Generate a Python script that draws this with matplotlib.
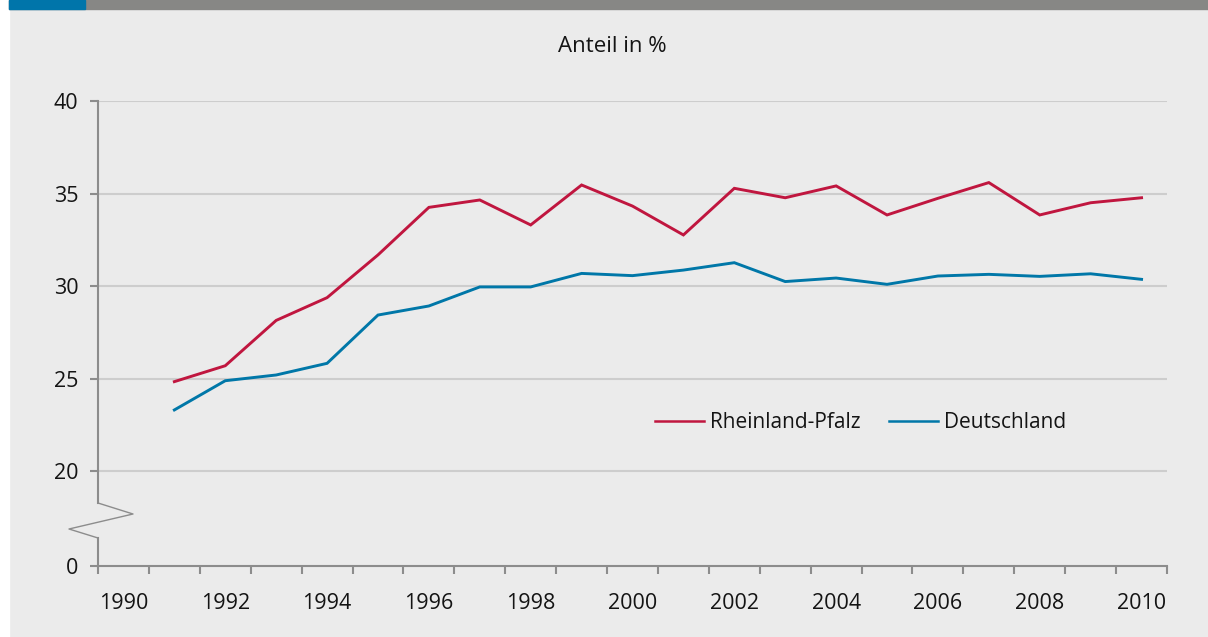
import matplotlib
matplotlib.use("Agg")
import matplotlib.pyplot as plt
from matplotlib.patches import Rectangle
from matplotlib.lines import Line2D
import numpy as np

# Data
years = list(range(1991, 2011))
rheinland_pfalz = [24.83, 25.69, 28.14, 29.37, 31.68, 34.25, 34.65, 33.30, 35.46, 34.32,
                   32.76, 35.28, 34.77, 35.41, 33.84, 34.74, 35.59, 33.84, 34.50, 34.77]
deutschland = [23.30, 24.88, 25.19, 25.82, 28.43, 28.92, 29.95, 29.95, 30.68, 30.56,
               30.86, 31.26, 30.24, 30.43, 30.09, 30.54, 30.63, 30.52, 30.66, 30.36]
year_labels = [str(y) for y in range(1990, 2011, 2)]
y_ticks = [20, 25, 30, 35, 40]

# Styling
plt.rcParams['font.family'] = ['Open Sans', 'DejaVu Sans']
bg = '#ebebeb'
axis_grey = '#8c8c8c'
red = '#c0163f'
blue = '#0077a8'
txt = '#141414'

W, H = 1208, 637
fig = plt.figure(figsize=(W / 100, H / 100), dpi=100, facecolor=bg)

# white strip at left and header bar
fig.patches.append(Rectangle((0, 0), 9 / W, 1, transform=fig.transFigure, color='white', zorder=0))
fig.patches.append(Rectangle((9 / W, 1 - 9 / H), 1, 9 / H, transform=fig.transFigure, color='#878785', zorder=1))
fig.patches.append(Rectangle((9 / W, 1 - 9 / H), 76 / W, 9 / H, transform=fig.transFigure, color='#0075aa', zorder=2))

ax_l, ax_r, ax_t, ax_b = 98, 1167, 101, 566
ax = fig.add_axes([ax_l / W, 1 - ax_b / H, (ax_r - ax_l) / W, (ax_b - ax_t) / H])
ax.set_facecolor(bg)

# broken y axis: bottom of axis is labelled 0
y_floor = 20 - 95 / 18.5
ax.set_ylim(y_floor, 40)
ax.set_xlim(years[0] - 1.5, years[-1] + 0.5)

ax.plot(years, rheinland_pfalz, color=red, lw=2.1, label='Rheinland-Pfalz', solid_joinstyle='miter')
ax.plot(years, deutschland, color=blue, lw=2.1, label='Deutschland', solid_joinstyle='miter')

for v in y_ticks:
    ax.axhline(v, color='#cdcdcd', lw=1.5, zorder=0)

ax.set_yticks([y_floor] + y_ticks)
ax.set_yticklabels(['0'] + [str(v) for v in y_ticks])
ax.set_xticks(np.arange(years[0] - 1.5, years[-1] + 1, 1))
ax.set_xticklabels([])
ax.set_xticks(np.arange(1990, 2011, 2), minor=True)
ax.set_xticklabels(year_labels, minor=True)

ax.tick_params(which='major', length=6, width=1.5, color=axis_grey, direction='out',
               labelsize=15.5, labelcolor=txt, pad=8)
ax.tick_params(axis='x', which='minor', length=0, labelsize=15.5, labelcolor=txt, pad=19.5)

for s in ['top', 'right', 'left']:
    ax.spines[s].set_visible(False)
ax.spines['bottom'].set_color(axis_grey)
ax.spines['bottom'].set_linewidth(1.5)

# left spine with break symbol (axes fraction)
aw, ah = ax_r - ax_l, ax_b - ax_t
spine_kw = dict(transform=ax.transAxes, clip_on=False, color=axis_grey)
ax.add_line(Line2D([0, 0], [1, (ax_b - 503) / ah], lw=1.5, **spine_kw))
ax.add_line(Line2D([0, 0], [(ax_b - 538) / ah, 0], lw=1.5, **spine_kw))
ax.add_line(Line2D([0, 35 / aw, -29 / aw, 0],
                   [(ax_b - 503) / ah, (ax_b - 514) / ah, (ax_b - 529) / ah, (ax_b - 538) / ah],
                   lw=1.0, **spine_kw))

fig.text(612 / W, 1 - 47 / H, 'Anteil in %', ha='center', va='center', fontsize=16, color=txt)

leg = ax.legend(loc='center left', bbox_to_anchor=(655 / W, 1 - 423 / H),
                bbox_transform=fig.transFigure, ncol=2, frameon=False, fontsize=15,
                handlelength=2.35, handletextpad=0.3, columnspacing=1.35,
                borderpad=0, borderaxespad=0)
for line in leg.get_lines():
    line.set_linewidth(1.8)
for t in leg.get_texts():
    t.set_color(txt)

fig.savefig('out.png', dpi=100, facecolor=bg)
